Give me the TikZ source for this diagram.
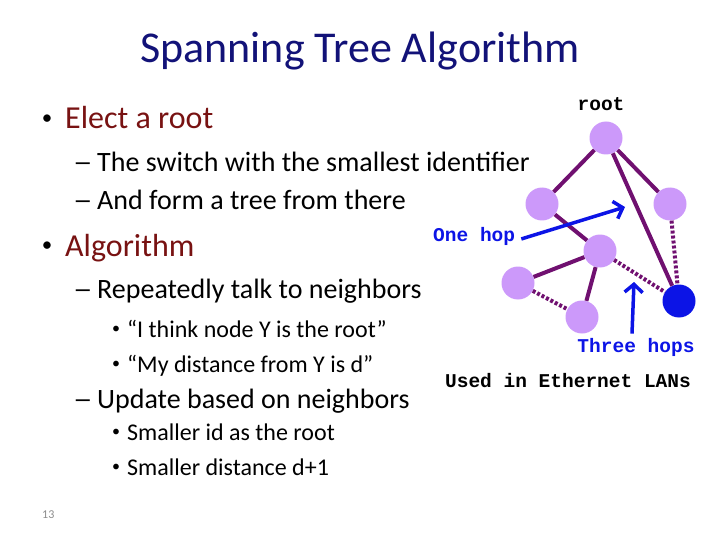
\documentclass[tikz,border=0pt]{standalone}
\usepackage{fontspec}
\setmainfont{Carlito}
\newfontfamily\courierfont{Liberation Mono}
\usetikzlibrary{arrows.meta}
\definecolor{titleblue}{RGB}{18,18,120}
\definecolor{bulletred}{RGB}{120,18,18}
\definecolor{switchfill}{RGB}{204,153,250}
\definecolor{linkpurple}{RGB}{112,16,112}
\definecolor{hopblue}{RGB}{12,20,230}
\definecolor{pagegray}{RGB}{140,140,140}
\tikzset{
  switch/.style = {circle, fill = switchfill, minimum size = 33pt, inner sep = 0pt},
  link/.style = {linkpurple, line width = 4pt},
  backup/.style = {linkpurple, line width = 4pt, dash pattern = on 3pt off 2pt},
  hop/.style = {hopblue, line width = 3.5pt, -{Straight Barb[length = 8pt, width = 18pt]}},
  mono/.style = {font = \courierfont\bfseries\fontsize{19.5}{20}\selectfont, inner sep = 0pt},
  lvlone/.style = {anchor = base west, inner sep = 0pt, font = \fontsize{32}{36}\selectfont},
  lvltwo/.style = {anchor = base west, inner sep = 0pt, font = \fontsize{28}{32}\selectfont},
  lvlthree/.style = {anchor = base west, inner sep = 0pt, font = \fontsize{24}{28}\selectfont},
  bigdot/.style = {anchor = center, inner sep = 0pt, font = \fontsize{21}{22}\selectfont},
  smalldot/.style = {anchor = center, inner sep = 0pt, font = \fontsize{16}{18}\selectfont},
}
\begin{document}
\begin{tikzpicture}[x = 1pt, y = -1pt]
\useasboundingbox (0,0) rectangle (720,540);
\node[anchor = base, inner sep = 0pt, text = titleblue, font = \fontsize{44}{48}\selectfont] (title) at (360,63) {Spanning Tree Algorithm};

\node[bigdot] (dotelect) at (47,120) {•};
\node[lvlone, text = bulletred] (elect) at (65,129) {Elect a root};
\node[lvltwo] (dashswitch) at (73,172) {\scalebox{1.4}[1]{–}};
\node[lvltwo] (smallest) at (97,172) {The switch with the smallest identifier};
\node[lvltwo] (dashform) at (73,210) {\scalebox{1.4}[1]{–}};
\node[lvltwo] (formtree) at (97,210) {And form a tree from there};
\node[bigdot] (dotalgo) at (47,247) {•};
\node[lvlone, text = bulletred] (algo) at (65,256) {Algorithm};
\node[lvltwo] (dashtalk) at (73,298) {\scalebox{1.4}[1]{–}};
\node[lvltwo] (talk) at (97,298) {Repeatedly talk to neighbors};
\node[smalldot] (dotthink) at (116,330) {•};
\node[lvlthree] (think) at (127,337) {“I think node Y is the root”};
\node[smalldot] (dotdist) at (116,365) {•};
\node[lvlthree] (dist) at (127,372) {“My distance from Y is d”};
\node[lvltwo] (dashupdate) at (73,408) {\scalebox{1.4}[1]{–}};
\node[lvltwo] (update) at (97,408) {Update based on neighbors};
\node[smalldot] (dotid) at (116,433) {•};
\node[lvlthree] (smallid) at (127,440) {Smaller id as the root};
\node[smalldot] (dotplus) at (116,468) {•};
\node[lvlthree] (smalld) at (127,475) {Smaller distance d+1};
\node[anchor = base west, inner sep = 0pt, text = pagegray, font = \fontsize{12}{14}\selectfont] (pagenum) at (42,518) {13};

\node[switch] (root) at (606,138) {};
\node[switch] (left) at (542,204) {};
\node[switch] (right) at (670,204) {};
\node[switch] (mid) at (600,251) {};
\node[switch] (low) at (518,283) {};
\node[switch] (bottom) at (582,317) {};
\node[switch, fill = hopblue] (far) at (679,301) {};

\draw[link] (root) -- (left);
\draw[link] (root) -- (right);
\draw[link] (root) -- (far);
\draw[link] (left) -- (mid);
\draw[link] (mid) -- (low);
\draw[link] (mid) -- (bottom);
\draw[backup] (right) -- (far);
\draw[backup] (mid) -- (far);
\draw[backup] (low) -- (bottom);

\node[mono, anchor = base] (rootlabel) at (601,111) {root};
\node[mono, anchor = base west, text = hopblue] (onehop) at (433,241) {One hop};
\node[mono, anchor = base, text = hopblue] (threehops) at (636,352) {Three hops};
\node[mono, anchor = base] (ethernet) at (568,387) {Used in Ethernet LANs};

\coordinate (onetip) at (625,207);
\coordinate (threetip) at (634,282);
\draw[hop] ([shift = {(6,3)}]onehop.east) -- (onetip);
\draw[hop] ([shift = {(-4,-4)}]threehops.north) -- (threetip);
\end{tikzpicture}
\end{document}
